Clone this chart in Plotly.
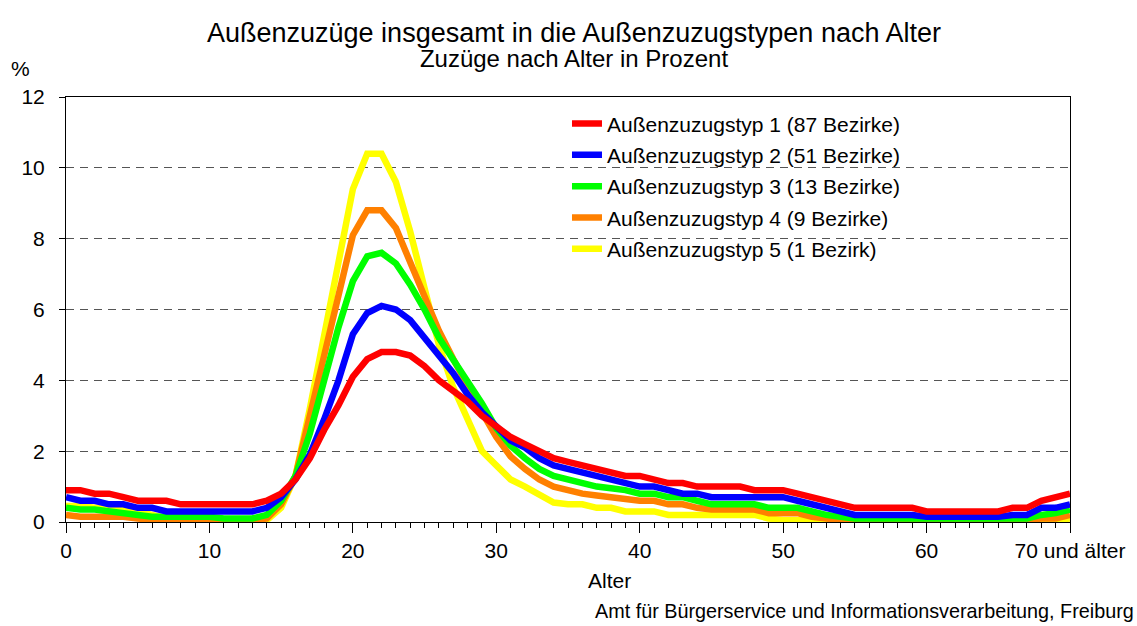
import plotly.graph_objects as go

ages = list(range(0, 71))
x_tick_vals = [0, 10, 20, 30, 40, 50, 60, 70]
x_tick_text = ["0", "10", "20", "30", "40", "50", "60", "70 und älter"]

series_names = [
    "Außenzuzugstyp 1 (87 Bezirke)",
    "Außenzuzugstyp 2 (51 Bezirke)",
    "Außenzuzugstyp 3 (13 Bezirke)",
    "Außenzuzugstyp 4 (9 Bezirke)",
    "Außenzuzugstyp 5 (1 Bezirk)",
]
series_colors = ["#FF0000", "#0000FF", "#00FF00", "#FF8000", "#FFFF00"]

typ1 = [0.9, 0.9, 0.8, 0.8, 0.7, 0.6, 0.6, 0.6, 0.5, 0.5,
        0.5, 0.5, 0.5, 0.5, 0.6, 0.8, 1.2, 1.8, 2.6, 3.3,
        4.1, 4.6, 4.8, 4.8, 4.7, 4.4, 4.0, 3.7, 3.4, 3.0,
        2.7, 2.4, 2.2, 2.0, 1.8, 1.7, 1.6, 1.5, 1.4, 1.3,
        1.3, 1.2, 1.1, 1.1, 1.0, 1.0, 1.0, 1.0, 0.9, 0.9,
        0.9, 0.8, 0.7, 0.6, 0.5, 0.4, 0.4, 0.4, 0.4, 0.4,
        0.3, 0.3, 0.3, 0.3, 0.3, 0.3, 0.4, 0.4, 0.6, 0.7,
        0.8]
typ2 = [0.7, 0.6, 0.6, 0.5, 0.5, 0.4, 0.4, 0.3, 0.3, 0.3,
        0.3, 0.3, 0.3, 0.3, 0.4, 0.7, 1.2, 1.9, 2.9, 4.0,
        5.3, 5.9, 6.1, 6.0, 5.7, 5.2, 4.7, 4.2, 3.6, 3.1,
        2.7, 2.3, 2.1, 1.8, 1.6, 1.5, 1.4, 1.3, 1.2, 1.1,
        1.0, 1.0, 0.9, 0.8, 0.8, 0.7, 0.7, 0.7, 0.7, 0.7,
        0.7, 0.6, 0.5, 0.4, 0.3, 0.2, 0.2, 0.2, 0.2, 0.2,
        0.15, 0.15, 0.15, 0.15, 0.15, 0.15, 0.2, 0.2, 0.4, 0.4,
        0.5]
typ3 = [0.4, 0.35, 0.35, 0.3, 0.25, 0.2, 0.15, 0.15, 0.15, 0.15,
        0.15, 0.1, 0.1, 0.1, 0.2, 0.6, 1.3, 2.5, 4.0, 5.5,
        6.8, 7.5, 7.6, 7.3, 6.7, 6.0, 5.2, 4.6, 4.0, 3.35,
        2.65, 2.15, 1.8, 1.5, 1.3, 1.2, 1.1, 1.0, 0.95, 0.9,
        0.8, 0.8, 0.7, 0.7, 0.6, 0.5, 0.5, 0.5, 0.5, 0.4,
        0.4, 0.4, 0.3, 0.2, 0.15, 0.1, 0.1, 0.1, 0.1, 0.1,
        0.07, 0.07, 0.07, 0.07, 0.07, 0.07, 0.1, 0.1, 0.2, 0.25,
        0.35]
typ4 = [0.2, 0.15, 0.15, 0.15, 0.15, 0.1, 0.05, 0.05, 0.05, 0.05,
        0.05, 0.05, 0.05, 0.05, 0.1, 0.5, 1.3, 3.0, 4.7, 6.4,
        8.1, 8.8, 8.8, 8.3, 7.3, 6.4, 5.4, 4.6, 3.8, 3.1,
        2.4, 1.85, 1.5, 1.2, 1.0, 0.9, 0.8, 0.75, 0.7, 0.65,
        0.6, 0.6, 0.5, 0.5, 0.4, 0.35, 0.35, 0.35, 0.35, 0.25,
        0.25, 0.25, 0.15, 0.1, 0.05, 0.05, 0.05, 0.05, 0.05, 0.05,
        0.05, 0.05, 0.05, 0.05, 0.05, 0.05, 0.05, 0.05, 0.1, 0.1,
        0.2]
typ5 = [0.45, 0.45, 0.4, 0.4, 0.4, 0.3, 0.2, 0.1, 0.1, 0.1,
        0.1, 0.05, 0.0, 0.0, 0.05, 0.4, 1.3, 3.2, 5.3, 7.4,
        9.4, 10.4, 10.4, 9.6, 8.2, 6.6, 5.0, 3.8, 2.9, 2.0,
        1.6, 1.2, 1.0, 0.8, 0.55, 0.5, 0.5, 0.4, 0.4, 0.3,
        0.3, 0.3, 0.2, 0.2, 0.2, 0.2, 0.2, 0.2, 0.2, 0.1,
        0.05, 0.05, 0.05, 0.05, 0.05, 0.05, 0.05, 0.05, 0.05, 0.05,
        0.05, 0.05, 0.05, 0.05, 0.05, 0.05, 0.05, 0.05, 0.05, 0.05,
        0.1]

all_series = [typ1, typ2, typ3, typ4, typ5]

FONT = "Liberation Sans, Arial, sans-serif"

fig = go.Figure()
# draw type 5 first so that type 1 lies on top
for i in reversed(range(5)):
    fig.add_trace(go.Scatter(
        x=ages, y=all_series[i], mode="lines", name=series_names[i],
        line=dict(color=series_colors[i], width=6.5),
        legendgroup=f"g{i}", legendrank=i + 1,
    ))

title_text = ("<span style='font-size:27px'>Außenzuzüge insgesamt in die "
              "Außenzuzugstypen nach Alter</span><br>"
              "<span style='font-size:24px'>Zuzüge nach Alter in Prozent</span>")

fig.update_layout(
    width=1137, height=626,
    margin=dict(l=66, r=67, t=97, b=104, autoexpand=False),
    paper_bgcolor="white", plot_bgcolor="white",
    font=dict(family=FONT, size=21, color="black"),
    showlegend=True,
    legend=dict(
        x=0.499, y=0.985, xanchor="left", yanchor="top",
        bgcolor="rgba(255,255,255,0)", borderwidth=0,
        font=dict(family=FONT, size=21, color="black"),
        traceorder="grouped", tracegroupgap=1,
        itemwidth=30,
    ),
    xaxis=dict(
        range=[0, 70], tickvals=x_tick_vals, ticktext=x_tick_text,
        ticks="outside", ticklen=10, tickcolor="black", tickwidth=1,
        minor=dict(dtick=1, ticks="outside", ticklen=5, tickcolor="black", tickwidth=1),
        showline=True, linecolor="black", linewidth=1, mirror=True,
        showgrid=False, zeroline=False, automargin=False,
        tickfont=dict(family=FONT, size=21),
    ),
    yaxis=dict(
        range=[0, 12], dtick=2, tick0=0,
        ticks="outside", ticklen=6, tickcolor="black",
        showline=True, linecolor="black", linewidth=1, mirror=True,
        showgrid=True, gridcolor="#555555", gridwidth=1, griddash="8px,6px",
        zeroline=False, automargin=False, ticklabelstandoff=10,
        tickfont=dict(family=FONT, size=21),
    ),
    annotations=[
        dict(text=title_text,
             x=0.5055, y=1.1212, xref="paper", yref="paper",
             xanchor="center", yanchor="middle", showarrow=False,
             font=dict(family=FONT, size=19)),
        dict(text="%", x=-0.0458, y=1.068, xref="paper", yref="paper",
             xanchor="center", yanchor="middle", showarrow=False,
             font=dict(family=FONT, size=21)),
        dict(text="Alter", x=0.541, y=-0.1365, xref="paper", yref="paper",
             xanchor="center", yanchor="middle", showarrow=False,
             font=dict(family=FONT, size=21)),
        dict(text="Amt für Bürgerservice und Informationsverarbeitung, Freiburg",
             x=1.0657, y=-0.209, xref="paper", yref="paper",
             xanchor="right", yanchor="middle", showarrow=False,
             font=dict(family=FONT, size=19.8)),
    ],
)

fig.write_html("out.html", config={"displayModeBar": False},
               post_script="document.body.style.margin='0';document.body.style.padding='0';")
